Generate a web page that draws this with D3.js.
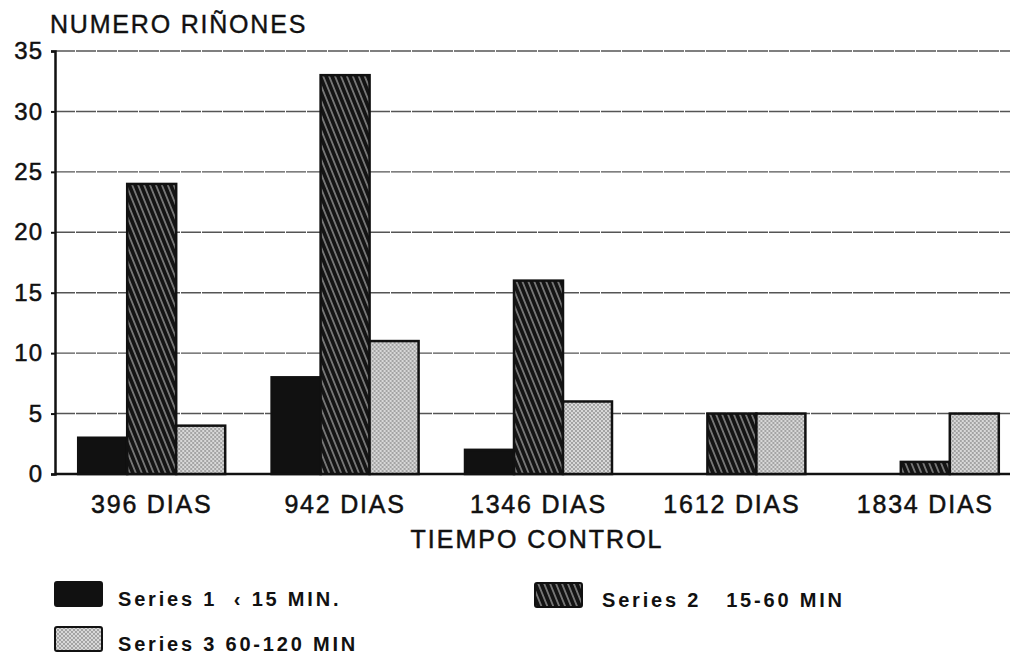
<!DOCTYPE html>
<html>
<head>
<meta charset="utf-8">
<script src="https://cdn.jsdelivr.net/npm/d3@7"></script>
<style>
  body { margin: 0; background: #fff; }
  text { font-family: "Liberation Sans", Arial, sans-serif; fill: #111; }
</style>
</head>
<body>
<div id="chart"></div>
<script>

var categories = ["396 DIAS", "942 DIAS", "1346 DIAS", "1612 DIAS", "1834 DIAS"];
var seriesNames = ["Series 1  \u2039 15 MIN.", "Series 2   15-60 MIN", "Series 3 60-120 MIN"];
var series1 = [3, 8, 2, 0, 0];
var series2 = [24, 33, 16, 5, 1];
var series3 = [4, 11, 6, 5, 5];
var yTicks = [0, 5, 10, 15, 20, 25, 30, 35];

var width = 1010, height = 657;
var margin = { left: 55, top: 51, bottom: 183 };

var svg = d3.select("#chart").append("svg")
    .attr("width", width)
    .attr("height", height);

// patterns
var defs = svg.append("defs");
var hatch = defs.append("pattern")
    .attr("id", "hatch")
    .attr("patternUnits", "userSpaceOnUse")
    .attr("width", 5.5).attr("height", 5.5)
    .attr("patternTransform", "rotate(-22)");
hatch.append("rect").attr("width", 5.5).attr("height", 5.5).attr("fill", "#141414");
hatch.append("line").attr("x1", 2.75).attr("y1", 0).attr("x2", 2.75).attr("y2", 5.5)
    .attr("stroke", "#b8b8b8").attr("stroke-width", 1.1);

var dots = defs.append("pattern")
    .attr("id", "dots")
    .attr("patternUnits", "userSpaceOnUse")
    .attr("width", 4).attr("height", 4);
dots.append("rect").attr("width", 4).attr("height", 4).attr("fill", "#d8d8d8");
dots.append("circle").attr("cx", 1).attr("cy", 1).attr("r", 0.9).attr("fill", "#8a8a8a");
dots.append("circle").attr("cx", 3).attr("cy", 3).attr("r", 0.9).attr("fill", "#8a8a8a");

var fills = ["#111", "url(#hatch)", "url(#dots)"];

var data = categories.map(function(c, i) {
    return { cat: c, values: [series1[i], series2[i], series3[i]] };
});

var x = d3.scaleBand()
    .domain(categories)
    .range([55, 1022])
    .paddingInner(0.24)
    .paddingOuter(0.12);

var xs = d3.scaleBand()
    .domain([0, 1, 2])
    .range([0, x.bandwidth()]);

var y = d3.scaleLinear()
    .domain([0, 35])
    .range([474, margin.top]);

// gridlines
svg.append("g")
    .selectAll("line")
    .data(yTicks.filter(function(d) { return d > 0; }))
    .enter().append("line")
    .attr("x1", margin.left).attr("x2", width)
    .attr("y1", function(d) { return y(d); })
    .attr("y2", function(d) { return y(d); })
    .attr("stroke", "#555")
    .attr("stroke-width", 1.4)
    .attr("stroke-dasharray", "20,1");

// y axis
var yAxis = d3.axisLeft(y).tickValues(yTicks).tickSize(4).tickPadding(8);
var gy = svg.append("g")
    .attr("transform", "translate(" + margin.left + ",0)")
    .call(yAxis);
gy.select(".domain").attr("stroke", "#111").attr("stroke-width", 2.5);
gy.selectAll(".tick line").attr("stroke", "#111").attr("stroke-width", 2);
gy.selectAll(".tick text")
    .style("font-size", "24px").style("letter-spacing", "1px")
    .attr("fill", "#111").attr("stroke", "#111").attr("stroke-width", 0.5);

// baseline
svg.append("line")
    .attr("x1", margin.left).attr("x2", width)
    .attr("y1", y(0)).attr("y2", y(0))
    .attr("stroke", "#111").attr("stroke-width", 2.5);

// bars
var groups = svg.append("g").selectAll("g")
    .data(data).enter()
    .append("g")
    .attr("transform", function(d) { return "translate(" + x(d.cat) + ",0)"; });

groups.selectAll("rect")
    .data(function(d) { return d.values.map(function(v, i) { return { v: v, s: i }; }); })
    .enter().filter(function(d) { return d.v > 0; })
    .append("rect")
    .attr("x", function(d) { return xs(d.s); })
    .attr("width", xs.bandwidth())
    .attr("y", function(d) { return y(d.v); })
    .attr("height", function(d) { return y(0) - y(d.v); })
    .attr("fill", function(d) { return fills[d.s]; })
    .attr("stroke", "#111")
    .attr("stroke-width", 2.5);

// x labels
var xAxis = d3.axisBottom(x).tickSize(0).tickPadding(21);
var gx = svg.append("g")
    .attr("transform", "translate(0," + y(0) + ")")
    .call(xAxis);
gx.select(".domain").remove();
gx.selectAll(".tick text")
    .style("font-size", "25px").style("letter-spacing", "1.8px")
    .attr("fill", "#111").attr("stroke", "#111").attr("stroke-width", 0.5);

// axis titles
svg.append("text")
    .attr("x", 537).attr("y", 548)
    .attr("text-anchor", "middle")
    .style("font-size", "25px").style("letter-spacing", "2px")
    .attr("stroke", "#111").attr("stroke-width", 0.5)
    .text("TIEMPO CONTROL");

svg.append("text")
    .attr("x", 50).attr("y", 33)
    .style("font-size", "25px").style("letter-spacing", "1.8px")
    .attr("stroke", "#111").attr("stroke-width", 0.4)
    .text("NUMERO RI\u00d1ONES");

// legend
var legendPos = [[55, 582], [535, 583], [55, 627]];
var legend = svg.append("g").selectAll("g")
    .data(seriesNames).enter()
    .append("g")
    .attr("transform", function(d, i) { return "translate(" + legendPos[i][0] + "," + legendPos[i][1] + ")"; });

legend.append("rect")
    .attr("width", 47).attr("height", 24).attr("rx", 2)
    .attr("fill", function(d, i) { return fills[i]; })
    .attr("stroke", "#111").attr("stroke-width", 2);

legend.append("text")
    .attr("x", function(d, i) { return i == 1 ? 67 : 63; })
    .attr("y", 24)
    .style("font-size", "20px")
    .style("font-weight", "bold")
    .style("letter-spacing", "2.8px")
    .style("white-space", "pre")
    .text(function(d) { return d; });

</script>
</body>
</html>
